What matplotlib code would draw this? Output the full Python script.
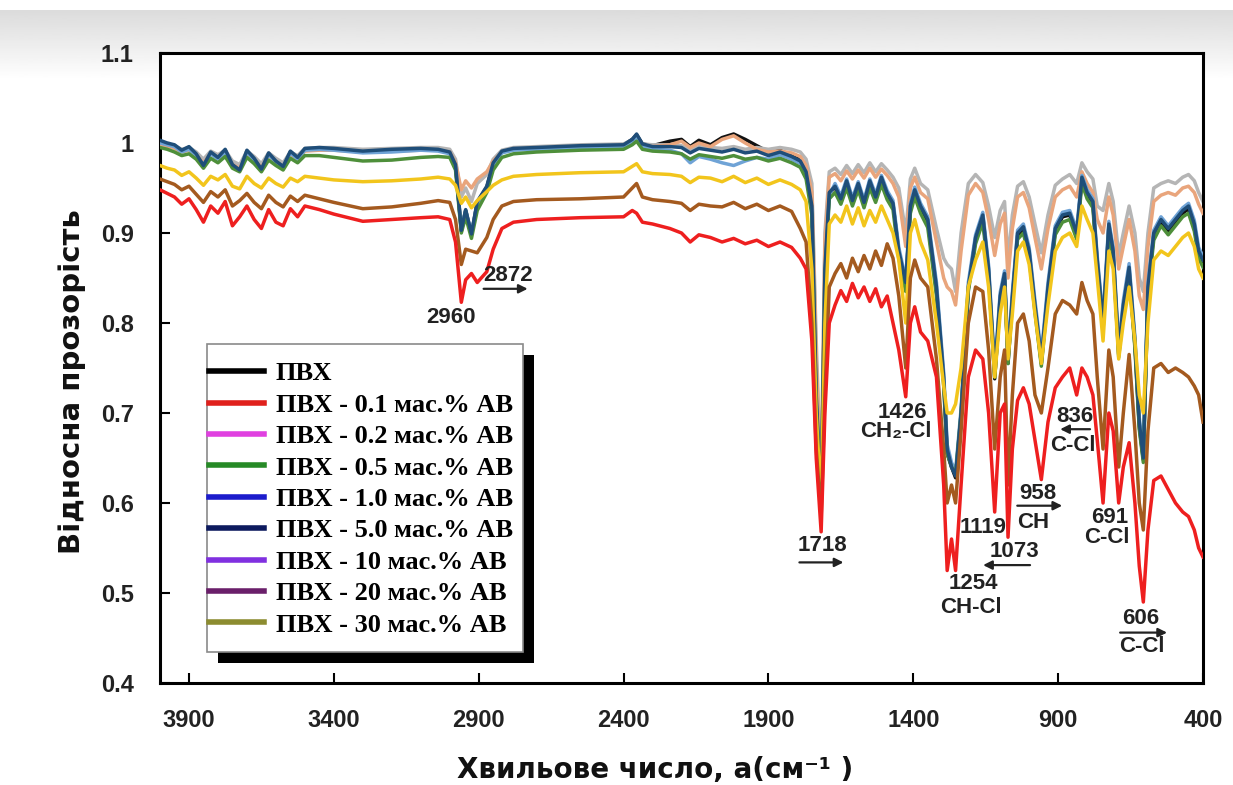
import matplotlib.pyplot as plt
import numpy as np
from matplotlib.lines import Line2D
from matplotlib.patches import Rectangle

# wavenumber grid, cm-1
wavenumber = [
    4000, 3975, 3950, 3925, 3900, 3875, 3850, 3825, 3800, 3775, 3750, 3725, 3700, 3675, 3650, 3625, 3600, 3575, 3550, 3525, 3500,
    3450, 3400, 3300, 3200, 3100, 3040,
    3000, 2980, 2960, 2945, 2925, 2905, 2872, 2850, 2820, 2780, 2700,
    2550, 2400, 2370, 2355, 2335, 2300, 2240, 2200, 2170, 2140, 2100, 2060, 2020, 1980, 1940, 1900, 1860, 1820, 1790, 1770, 1750,
    1735, 1718, 1705, 1690,
    1670, 1650, 1630, 1610, 1590, 1570, 1550, 1530, 1510, 1490, 1470,
    1450, 1426, 1410, 1395, 1375, 1350, 1320, 1295, 1283, 1268,
    1254, 1235, 1210, 1185, 1160, 1140, 1119, 1100, 1085, 1073,
    1058, 1040, 1020, 1000, 980, 958, 935, 910, 885, 860,
    836, 818, 800, 780, 765, 745, 725, 710, 691, 675,
    655, 635, 620, 606, 590, 570, 545, 520, 495, 470,
    450, 430, 415, 400,
]

t_pvc = [
    1.002, 0.999, 0.997, 0.991, 0.995, 0.987, 0.976, 0.989, 0.983, 0.992, 0.975, 0.971, 0.991, 0.982, 0.972, 0.988, 0.979, 0.975, 0.990, 0.983, 0.993,
    0.994, 0.993, 0.990, 0.992, 0.993, 0.992,
    0.989, 0.975, 0.902, 0.925, 0.898, 0.934, 0.951, 0.977, 0.990, 0.993, 0.994,
    0.997, 0.998, 1.004, 1.009, 0.999, 0.997, 1.002, 1.004, 0.996, 1.003, 0.998, 1.006, 1.010, 1.004, 0.997, 0.990, 0.992, 0.986, 0.981, 0.969, 0.930,
    0.718, 0.598, 0.858, 0.944,
    0.951, 0.937, 0.957, 0.935, 0.954, 0.933, 0.957, 0.939, 0.961, 0.943, 0.932,
    0.878, 0.842, 0.928, 0.946, 0.928, 0.912, 0.836, 0.735, 0.655, 0.640,
    0.628, 0.695, 0.838, 0.893, 0.918, 0.856, 0.738, 0.826, 0.852, 0.755,
    0.826, 0.897, 0.905, 0.877, 0.816, 0.755, 0.836, 0.902, 0.918, 0.920,
    0.897, 0.960, 0.943, 0.932, 0.866, 0.795, 0.907, 0.876, 0.765, 0.815,
    0.858, 0.775, 0.685, 0.648, 0.836, 0.897, 0.912, 0.902, 0.912, 0.922,
    0.927, 0.907, 0.877, 0.866,
]

t_01 = [
    0.948, 0.944, 0.940, 0.932, 0.938, 0.926, 0.912, 0.930, 0.922, 0.935, 0.908, 0.918, 0.930, 0.915, 0.905, 0.926, 0.912, 0.908, 0.927, 0.918, 0.930,
    0.926, 0.921, 0.913, 0.915, 0.917, 0.918,
    0.915, 0.890, 0.823, 0.848, 0.855, 0.845, 0.857, 0.882, 0.905, 0.912, 0.915,
    0.917, 0.918, 0.925, 0.922, 0.912, 0.910, 0.905, 0.900, 0.890, 0.898, 0.895, 0.890, 0.894, 0.888, 0.892, 0.885, 0.890, 0.884, 0.872, 0.860, 0.780,
    0.650, 0.568, 0.700, 0.800,
    0.820, 0.836, 0.824, 0.844, 0.828, 0.840, 0.824, 0.838, 0.818, 0.830, 0.800,
    0.770, 0.718, 0.800, 0.818, 0.790, 0.780, 0.740, 0.620, 0.525, 0.560,
    0.525, 0.620, 0.740, 0.770, 0.760, 0.700, 0.590, 0.700, 0.710, 0.562,
    0.660, 0.714, 0.728, 0.710, 0.670, 0.626, 0.690, 0.728, 0.740, 0.750,
    0.720, 0.750, 0.740, 0.720, 0.670, 0.600, 0.700, 0.680, 0.600, 0.640,
    0.667, 0.600, 0.530, 0.490, 0.570, 0.625, 0.630, 0.615, 0.600, 0.590,
    0.585, 0.570, 0.550, 0.540,
]

t_02 = [
    0.998, 0.996, 0.994, 0.990, 0.992, 0.986, 0.978, 0.988, 0.983, 0.989, 0.976, 0.972, 0.988, 0.981, 0.973, 0.986, 0.979, 0.974, 0.987, 0.982, 0.991,
    0.992, 0.992, 0.990, 0.991, 0.992, 0.992,
    0.990, 0.978, 0.948, 0.958, 0.950, 0.960, 0.968, 0.980, 0.990, 0.993, 0.994,
    0.996, 0.997, 1.002, 1.006, 0.997, 0.996, 0.998, 1.002, 0.995, 1.000, 0.996, 1.004, 1.008, 1.000, 0.993, 0.990, 0.991, 0.989, 0.985, 0.975, 0.945,
    0.760, 0.615, 0.890, 0.962,
    0.966, 0.958, 0.969, 0.960, 0.970, 0.961, 0.972, 0.962, 0.971, 0.964, 0.955,
    0.940, 0.885, 0.950, 0.962, 0.945, 0.938, 0.890, 0.850, 0.840, 0.835,
    0.820, 0.880, 0.942, 0.955, 0.945, 0.915, 0.875, 0.910, 0.922, 0.850,
    0.905, 0.940, 0.945, 0.928, 0.895, 0.860, 0.905, 0.940, 0.948, 0.952,
    0.940, 0.968, 0.955, 0.945, 0.915, 0.900, 0.940, 0.920, 0.860, 0.885,
    0.915, 0.880, 0.830, 0.815, 0.885, 0.935, 0.942, 0.945, 0.942, 0.950,
    0.952, 0.945, 0.932, 0.922,
]

t_05 = [
    0.995, 0.993, 0.990, 0.986, 0.988, 0.982, 0.972, 0.983, 0.978, 0.985, 0.972, 0.968, 0.984, 0.977, 0.968, 0.981, 0.975, 0.970, 0.983, 0.978, 0.986,
    0.986, 0.984, 0.980, 0.981, 0.984, 0.985,
    0.984, 0.970, 0.900, 0.918, 0.894, 0.925, 0.945, 0.970, 0.984, 0.988, 0.990,
    0.992, 0.993, 0.998, 1.002, 0.993, 0.991, 0.990, 0.988, 0.982, 0.987, 0.985, 0.983, 0.986, 0.982, 0.984, 0.980, 0.983, 0.978, 0.973, 0.960, 0.920,
    0.710, 0.598, 0.850, 0.938,
    0.945, 0.932, 0.950, 0.930, 0.948, 0.928, 0.950, 0.934, 0.954, 0.937, 0.926,
    0.872, 0.835, 0.922, 0.940, 0.922, 0.906, 0.830, 0.730, 0.655, 0.640,
    0.632, 0.700, 0.835, 0.888, 0.912, 0.852, 0.740, 0.822, 0.848, 0.755,
    0.822, 0.893, 0.900, 0.872, 0.812, 0.752, 0.832, 0.898, 0.912, 0.915,
    0.893, 0.955, 0.938, 0.928, 0.862, 0.792, 0.902, 0.872, 0.762, 0.812,
    0.855, 0.772, 0.682, 0.645, 0.832, 0.892, 0.908, 0.898, 0.908, 0.918,
    0.922, 0.902, 0.872, 0.862,
]

t_10 = [
    1.000, 0.998, 0.996, 0.990, 0.993, 0.986, 0.976, 0.988, 0.982, 0.990, 0.975, 0.970, 0.990, 0.981, 0.971, 0.987, 0.979, 0.973, 0.989, 0.982, 0.992,
    0.993, 0.992, 0.989, 0.990, 0.992, 0.991,
    0.988, 0.974, 0.905, 0.925, 0.900, 0.933, 0.950, 0.975, 0.989, 0.992, 0.993,
    0.995, 0.996, 1.001, 1.006, 0.996, 0.993, 0.992, 0.988, 0.978, 0.985, 0.982, 0.978, 0.975, 0.980, 0.984, 0.982, 0.987, 0.982, 0.977, 0.965, 0.926,
    0.715, 0.602, 0.855, 0.942,
    0.955, 0.941, 0.960, 0.939, 0.957, 0.937, 0.960, 0.943, 0.964, 0.947, 0.936,
    0.884, 0.848, 0.933, 0.951, 0.933, 0.918, 0.845, 0.745, 0.665, 0.645,
    0.635, 0.705, 0.845, 0.898, 0.923, 0.864, 0.750, 0.834, 0.858, 0.765,
    0.834, 0.903, 0.910, 0.884, 0.825, 0.765, 0.845, 0.908, 0.923, 0.925,
    0.904, 0.964, 0.948, 0.938, 0.874, 0.805, 0.913, 0.884, 0.775, 0.825,
    0.866, 0.785, 0.695, 0.655, 0.845, 0.903, 0.918, 0.908, 0.918, 0.928,
    0.933, 0.914, 0.884, 0.874,
]

t_50 = [
    1.003, 1.000, 0.998, 0.992, 0.996, 0.988, 0.975, 0.990, 0.984, 0.993, 0.976, 0.970, 0.992, 0.983, 0.971, 0.989, 0.980, 0.974, 0.991, 0.984, 0.994,
    0.995, 0.994, 0.991, 0.993, 0.994, 0.993,
    0.990, 0.976, 0.903, 0.926, 0.899, 0.935, 0.952, 0.978, 0.991, 0.994, 0.995,
    0.997, 0.998, 1.004, 1.010, 0.999, 0.996, 0.996, 0.995, 0.989, 0.994, 0.992, 0.990, 0.993, 0.989, 0.991, 0.986, 0.990, 0.985, 0.980, 0.968, 0.930,
    0.720, 0.600, 0.860, 0.945,
    0.952, 0.938, 0.958, 0.936, 0.955, 0.934, 0.958, 0.940, 0.962, 0.944, 0.933,
    0.880, 0.845, 0.930, 0.948, 0.930, 0.915, 0.840, 0.740, 0.660, 0.640,
    0.630, 0.700, 0.840, 0.895, 0.920, 0.860, 0.745, 0.830, 0.855, 0.760,
    0.830, 0.900, 0.907, 0.880, 0.820, 0.760, 0.840, 0.905, 0.920, 0.922,
    0.900, 0.962, 0.945, 0.935, 0.870, 0.800, 0.910, 0.880, 0.770, 0.820,
    0.862, 0.780, 0.690, 0.650, 0.840, 0.900, 0.915, 0.905, 0.915, 0.925,
    0.930, 0.910, 0.880, 0.870,
]

t_100 = [
    1.000, 0.999, 0.997, 0.993, 0.995, 0.990, 0.982, 0.991, 0.987, 0.992, 0.980, 0.976, 0.991, 0.985, 0.977, 0.989, 0.983, 0.978, 0.990, 0.986, 0.994,
    0.995, 0.995, 0.993, 0.994, 0.995, 0.995,
    0.993, 0.982, 0.940, 0.950, 0.935, 0.955, 0.965, 0.982, 0.992, 0.995, 0.996,
    0.998, 0.999, 1.003, 1.006, 0.999, 0.998, 0.998, 0.997, 0.993, 0.996, 0.995, 0.994, 0.996, 0.993, 0.995, 0.993, 0.995, 0.993, 0.990, 0.982, 0.955,
    0.780, 0.620, 0.900, 0.968,
    0.972, 0.965, 0.975, 0.966, 0.976, 0.967, 0.978, 0.968, 0.977, 0.970, 0.962,
    0.950, 0.900, 0.960, 0.972, 0.955, 0.948, 0.905, 0.872, 0.865, 0.860,
    0.835, 0.900, 0.955, 0.965, 0.956, 0.930, 0.895, 0.925, 0.935, 0.870,
    0.920, 0.952, 0.957, 0.940, 0.910, 0.878, 0.920, 0.953, 0.960, 0.965,
    0.955, 0.978, 0.968, 0.960, 0.930, 0.925, 0.955, 0.935, 0.875, 0.900,
    0.930, 0.900, 0.850, 0.835, 0.900, 0.950, 0.955, 0.958, 0.955, 0.962,
    0.965, 0.958, 0.945, 0.935,
]

t_200 = [
    0.960, 0.957, 0.954, 0.948, 0.952, 0.943, 0.934, 0.946, 0.940, 0.948, 0.930, 0.936, 0.944, 0.934, 0.927, 0.942, 0.934, 0.929, 0.941, 0.935, 0.942,
    0.938, 0.934, 0.927, 0.929, 0.933, 0.936,
    0.934, 0.915, 0.865, 0.882, 0.880, 0.878, 0.895, 0.915, 0.930, 0.935, 0.937,
    0.938, 0.940, 0.950, 0.955, 0.940, 0.937, 0.935, 0.933, 0.925, 0.932, 0.930, 0.929, 0.934, 0.927, 0.932, 0.925, 0.930, 0.924, 0.905, 0.890, 0.800,
    0.660, 0.585, 0.720, 0.840,
    0.855, 0.866, 0.850, 0.872, 0.857, 0.875, 0.860, 0.880, 0.864, 0.888, 0.872,
    0.830, 0.750, 0.850, 0.870, 0.850, 0.840, 0.760, 0.660, 0.600, 0.620,
    0.600, 0.680, 0.800, 0.840, 0.835, 0.770, 0.660, 0.740, 0.770, 0.620,
    0.720, 0.800, 0.810, 0.780, 0.720, 0.700, 0.750, 0.810, 0.825, 0.820,
    0.810, 0.845, 0.825, 0.810, 0.740, 0.660, 0.770, 0.740, 0.640, 0.700,
    0.765, 0.680, 0.600, 0.570, 0.680, 0.750, 0.755, 0.745, 0.750, 0.745,
    0.740, 0.730, 0.720, 0.690,
]

t_300 = [
    0.975, 0.972, 0.970, 0.964, 0.968, 0.961, 0.953, 0.963, 0.959, 0.965, 0.952, 0.949, 0.963, 0.955, 0.950, 0.961, 0.955, 0.951, 0.961, 0.957, 0.963,
    0.961, 0.959, 0.957, 0.958, 0.960, 0.962,
    0.960, 0.953, 0.933, 0.940, 0.928, 0.936, 0.946, 0.953, 0.959, 0.963, 0.965,
    0.967, 0.968, 0.974, 0.977, 0.968, 0.966, 0.965, 0.963, 0.956, 0.962, 0.961, 0.957, 0.963, 0.956, 0.961, 0.954, 0.959, 0.954, 0.948, 0.935, 0.860,
    0.700, 0.600, 0.800, 0.910,
    0.920, 0.912, 0.930, 0.910, 0.928, 0.908, 0.925, 0.912, 0.930, 0.915, 0.900,
    0.870, 0.800, 0.900, 0.915, 0.890, 0.870, 0.800, 0.730, 0.700, 0.700,
    0.710, 0.750, 0.840, 0.870, 0.890, 0.840, 0.740, 0.810, 0.840, 0.760,
    0.810, 0.880, 0.890, 0.865, 0.810, 0.755, 0.820, 0.880, 0.895, 0.900,
    0.885, 0.930, 0.915, 0.900, 0.850, 0.780, 0.880, 0.860, 0.760, 0.800,
    0.840, 0.780, 0.720, 0.700, 0.800, 0.870, 0.880, 0.875, 0.885, 0.895,
    0.900, 0.885, 0.860, 0.850,
]

labels = ['ПВХ', 'ПВХ - 0.1 мас.% АВ', 'ПВХ - 0.2 мас.% АВ', 'ПВХ - 0.5 мас.% АВ',
          'ПВХ - 1.0 мас.% АВ', 'ПВХ - 5.0 мас.% АВ', 'ПВХ - 10 мас.% АВ',
          'ПВХ - 20 мас.% АВ', 'ПВХ - 30 мас.% АВ']
series = [t_pvc, t_01, t_02, t_05, t_10, t_50, t_100, t_200, t_300]
# colours the curves actually have in the picture
line_colors = ['#111111', '#ee1f1f', '#e9a57c', '#4e8f3a', '#6fa3d6', '#1f4e79',
               '#b5b5b5', '#a45a1f', '#f2c51c']
line_z = [1, 9, 3, 5, 4, 6, 2, 8, 7]
# colours shown in the legend box
legend_colors = ['#000000', '#e0201c', '#e040e0', '#268a26', '#1c1ccc', '#0d1a5e',
                 '#8030e0', '#6a1f6a', '#8c8c30']

xticks = [3900, 3400, 2900, 2400, 1900, 1400, 900, 400]
yticks = [0.4, 0.5, 0.6, 0.7, 0.8, 0.9, 1.0, 1.1]
ytick_labels = ['0.4', '0.5', '0.6', '0.7', '0.8', '0.9', '1', '1.1']

W, H = 1233, 785
fig = plt.figure(figsize=(W / 100, H / 100), dpi=100)

# grey band at the top of the screenshot
bg = fig.add_axes([0, 1 - 80 / H, 1, 70 / H], zorder=-5)
grad = np.linspace(0.86, 1.0, 64)[:, None]
bg.imshow(grad, aspect='auto', cmap='gray', vmin=0, vmax=1)
bg.axis('off')

ax = fig.add_axes([160 / W, 1 - 683 / H, (1203 - 160) / W, (683 - 53) / H])
ax.set_facecolor('white')

for y, c, z in zip(series, line_colors, line_z):
    ax.plot(wavenumber, y, color=c, lw=2.5, zorder=z, solid_joinstyle='round')

ax.set_xlim(4000, 400)
ax.set_ylim(0.4, 1.1)
ax.set_xticks(xticks)
ax.set_yticks(yticks)
ax.set_yticklabels(ytick_labels)
for lab in ax.get_xticklabels() + ax.get_yticklabels():
    lab.set_family('Liberation Sans')
    lab.set_weight('bold')
    lab.set_size(17)
    lab.set_color('#222222')
ax.tick_params(direction='in', length=7, width=1.5, pad=19, top=False, right=False)
for sp in ax.spines.values():
    sp.set_linewidth(2.2)

fig.text(72 / W, 1 - 382 / H, 'Відносна прозорість', rotation=90, ha='center', va='center',
         family='DejaVu Sans', weight='bold', size=21, color='#111111')
fig.text(655 / W, 1 - 770 / H, 'Хвильове число, a(см⁻¹ )', ha='center', va='center',
         family='DejaVu Sans', weight='bold', size=20, color='#111111')

# peak labels
ann = dict(family=['Liberation Sans', 'DejaVu Sans'], weight='bold', size=16,
           color='#222222', ha='center', va='center')
peak_text = [
    ('2960', 2997, 0.806), ('2872', 2800, 0.853), ('1718', 1714, 0.553),
    ('1426', 1438, 0.701), ('CH₂-Cl', 1459, 0.679), ('1254', 1193, 0.511),
    ('CH-Cl', 1200, 0.484), ('1119', 1159, 0.573), ('1073', 1052, 0.546),
    ('958', 969, 0.611), ('CH', 986, 0.578), ('836', 841, 0.696),
    ('C-Cl', 848, 0.664), ('691', 721, 0.584), ('C-Cl', 731, 0.562),
    ('606', 614, 0.472), ('C-Cl', 610, 0.440),
]
for s, x, y in peak_text:
    ax.text(x, y, s, zorder=12, **ann)

peak_arrows = [
    (2883, 2731, 0.838), (1793, 1641, 0.534), (997, 1159, 0.531),
    (1041, 886, 0.597), (790, 893, 0.682), (686, 524, 0.456),
]
for x0, x1, y in peak_arrows:
    ax.annotate('', xy=(x1, y), xytext=(x0, y), zorder=12,
                arrowprops=dict(arrowstyle='-|>', color='#222222', lw=1.6,
                                mutation_scale=13, shrinkA=0, shrinkB=0))

# legend: box and its black shadow drawn by hand, entries by ax.legend
box_x0, box_y0, box_x1, box_y1 = 207, 344, 523, 652
ax.add_patch(Rectangle(((box_x0 + 11) / W, 1 - (box_y1 + 11) / H),
                       (box_x1 - box_x0) / W, (box_y1 - box_y0) / H,
                       transform=fig.transFigure, facecolor='black', edgecolor='none',
                       zorder=18, clip_on=False))
ax.add_patch(Rectangle((box_x0 / W, 1 - box_y1 / H),
                       (box_x1 - box_x0) / W, (box_y1 - box_y0) / H,
                       transform=fig.transFigure, facecolor='white', edgecolor='#8a8a8a',
                       lw=1.2, zorder=19, clip_on=False))

handles = [Line2D([], [], color=c, lw=4) for c in legend_colors]
leg = ax.legend(handles, labels, loc='upper left',
                bbox_to_anchor=(209 / W, 1 - 362 / H), bbox_transform=fig.transFigure,
                borderaxespad=0, frameon=False, borderpad=0,
                prop=dict(family='Liberation Serif', weight='bold', size=19),
                handlelength=2.1, handletextpad=0.42, labelspacing=0.3)
leg.set_zorder(20)

fig.savefig('out.png', dpi=100)
